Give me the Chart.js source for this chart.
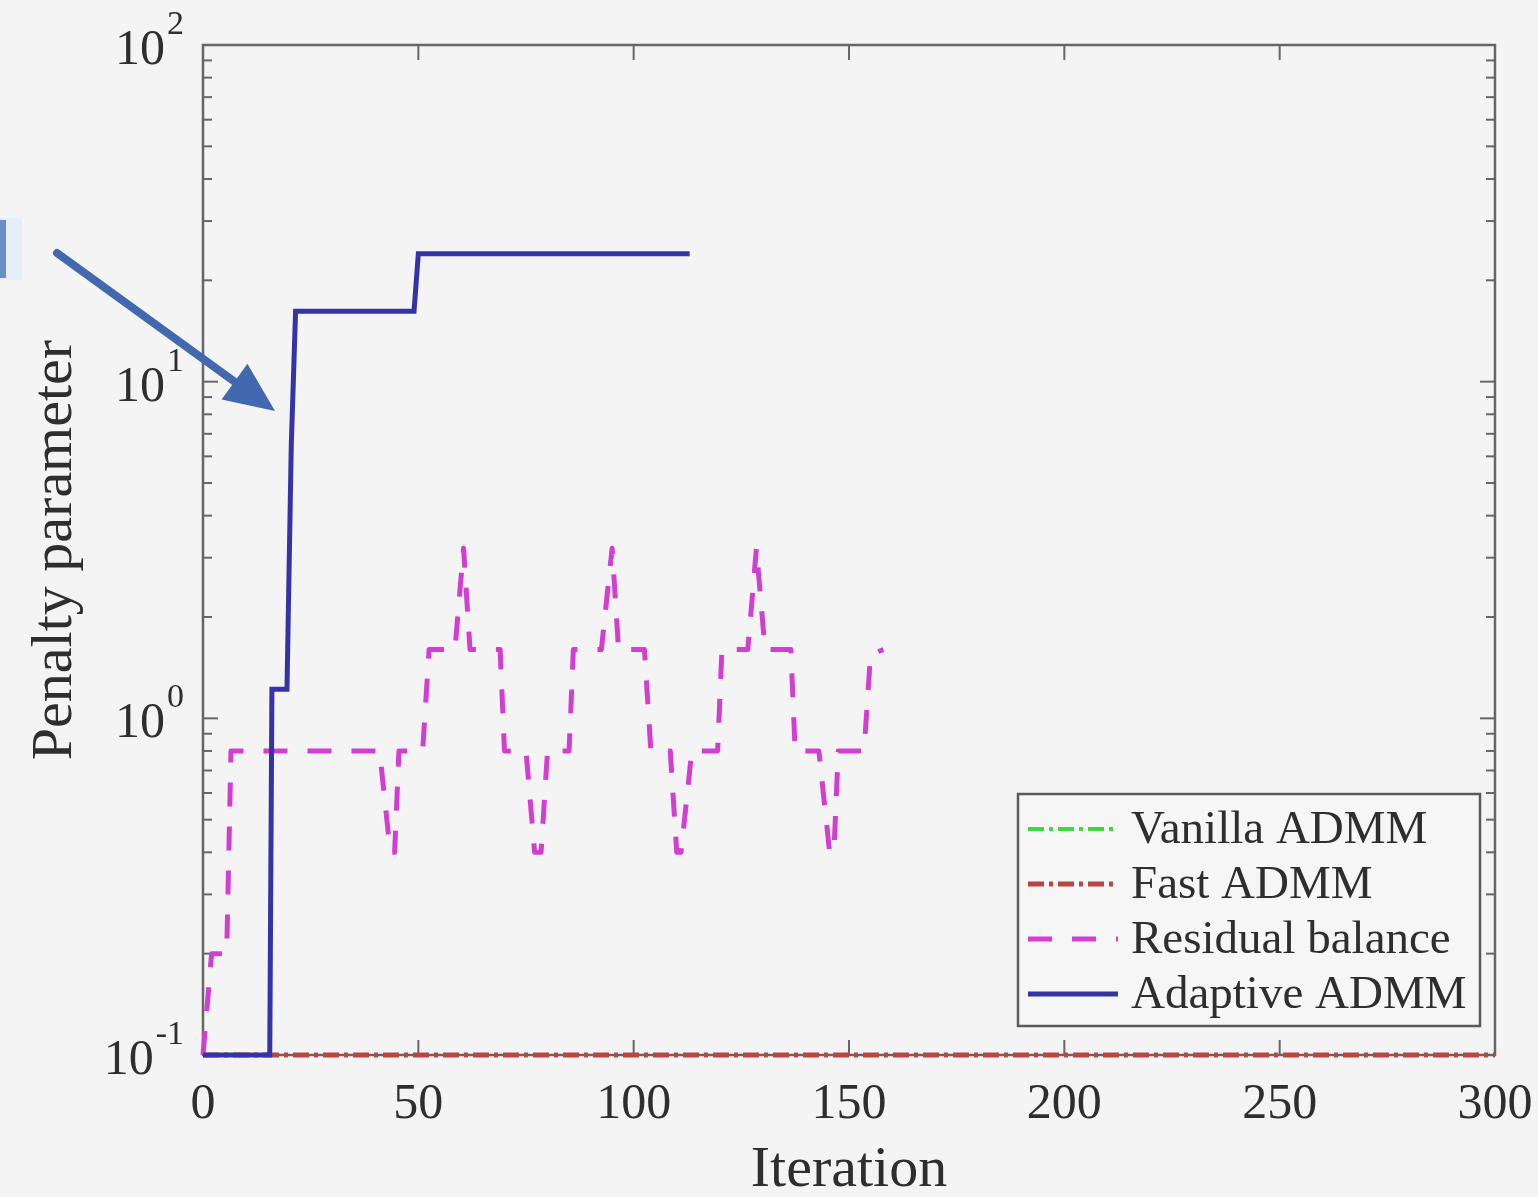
<!DOCTYPE html>
<html>
<head>
<meta charset="utf-8">
<title>Penalty parameter</title>
<script src="https://cdn.jsdelivr.net/npm/chart.js@4"></script>
<style>
  html, body { margin: 0; padding: 0; background: #f4f4f4; }
  #wrap { width: 1538px; height: 1197px; position: relative; }
</style>
</head>
<body>
<div id="wrap"><canvas id="penalty"></canvas></div>
<script>
// iteration / rho pairs for every method
const vanillaIter = [0, 300];
const vanillaRho  = [0.1, 0.1];

const fastIter = [0, 300];
const fastRho  = [0.1, 0.1];

const rbIter = [0, 2, 5.5, 6.5, 41, 43.5, 44.5, 45.5, 51, 52.5, 58.5, 60.5, 62, 69, 70,
  75, 77, 78.5, 80, 85, 86, 92.5, 95, 96.5, 102.5, 104, 108.5, 110, 111, 113.5, 119.5, 120.5,
  126.5, 128.5, 130.5, 136.5, 137.5, 143, 145.5, 146.5, 147.5, 153.5, 155, 158];
const rbRho  = [0.1, 0.2, 0.2, 0.8, 0.8, 0.4, 0.4, 0.8, 0.8, 1.6, 1.6, 3.2, 1.6, 1.6, 0.8,
  0.8, 0.4, 0.4, 0.8, 0.8, 1.6, 1.6, 3.2, 1.6, 1.6, 0.8, 0.8, 0.4, 0.4, 0.8, 0.8, 1.6,
  1.6, 3.2, 1.6, 1.6, 0.8, 0.8, 0.4, 0.4, 0.8, 0.8, 1.55, 1.6];

const adIter = [0, 15.5, 16, 19.5, 20.5, 21.5, 49, 50, 113];
const adRho  = [0.1, 0.1, 1.22, 1.22, 6.5, 16.2, 16.2, 24, 24];

const xTicks = [0, 50, 100, 150, 200, 250, 300];
const yDecades = [-1, 0, 1, 2];

const seriesNames = ['Vanilla ADMM', 'Fast ADMM', 'Residual balance', 'Adaptive ADMM'];

const SERIF = '"Liberation Serif", "Times New Roman", serif';
const TEXT = '#2e2e2e';

const toPoints = (xs, ys) => xs.map((v, i) => ({ x: v, y: ys[i] }));

// box, inward ticks, superscript y labels
const axesPlugin = {
  id: 'axesBox',
  beforeDatasetsDraw(chart) {
    const { ctx, chartArea: a, scales: { x, y } } = chart;
    ctx.save();
    ctx.strokeStyle = '#666666';
    ctx.lineWidth = 2.5;
    ctx.strokeRect(a.left, a.top, a.right - a.left, a.bottom - a.top);

    const seg = (x1, y1, x2, y2) => {
      ctx.beginPath(); ctx.moveTo(x1, y1); ctx.lineTo(x2, y2); ctx.stroke();
    };
    ctx.lineWidth = 2;
    xTicks.forEach(v => {
      const px = x.getPixelForValue(v);
      seg(px, a.bottom, px, a.bottom - 15);
      seg(px, a.top, px, a.top + 15);
    });
    yDecades.forEach(e => {
      const base = Math.pow(10, e);
      const py = y.getPixelForValue(base);
      seg(a.left, py, a.left + 15, py);
      seg(a.right, py, a.right - 15, py);
      if (e === 2) return;
      for (let k = 2; k <= 9; k++) {
        const my = y.getPixelForValue(k * base);
        seg(a.left, my, a.left + 9, my);
        seg(a.right, my, a.right - 9, my);
      }
    });
    ctx.restore();
  },
  afterDraw(chart) {
    const { ctx, scales: { y } } = chart;
    ctx.save();
    ctx.fillStyle = TEXT;
    ctx.textBaseline = 'middle';
    ctx.textAlign = 'left';
    yDecades.forEach(e => {
      const py = y.getPixelForValue(Math.pow(10, e));
      const sup = String(e);
      ctx.font = '34px ' + SERIF;
      const supW = ctx.measureText(sup).width;
      ctx.font = '50px ' + SERIF;
      const baseW = ctx.measureText('10').width;
      const right = 184;
      ctx.fillText('10', right - supW - baseW - 2, py + 6);
      ctx.font = '34px ' + SERIF;
      ctx.fillText(sup, right - supW, py - 20);
    });
    ctx.restore();
  }
};

// legend box in the lower right corner of the plot
const legendPlugin = {
  id: 'boxLegend',
  afterDraw(chart) {
    const { ctx, chartArea: a } = chart;
    const left = a.right - 477, top = a.bottom - 261, w = 462, h = 232;
    ctx.save();
    ctx.fillStyle = '#f6f6f6';
    ctx.fillRect(left, top, w, h);
    ctx.strokeStyle = '#5a5a5a';
    ctx.lineWidth = 2.5;
    ctx.strokeRect(left, top, w, h);
    ctx.font = '47px ' + SERIF;
    ctx.textBaseline = 'middle';
    ctx.textAlign = 'left';
    seriesNames.forEach((name, i) => {
      const ds = chart.data.datasets.find(d => d.label === name);
      const ry = top + 35 + i * 55;
      ctx.strokeStyle = ds.borderColor;
      ctx.lineWidth = ds.borderWidth;
      ctx.setLineDash(ds.borderDash || []);
      ctx.beginPath();
      ctx.moveTo(left + 10, ry);
      ctx.lineTo(left + 100, ry);
      ctx.stroke();
      ctx.setLineDash([]);
      ctx.fillStyle = TEXT;
      ctx.fillText(name, left + 113, ry + 2);
    });
    ctx.restore();
  }
};

// annotation arrow pointing at the adaptive curve
const arrowPlugin = {
  id: 'arrow',
  afterDraw(chart) {
    const { ctx } = chart;
    const x0 = 57, y0 = 253, x1 = 275, y1 = 411;
    const ang = Math.atan2(y1 - y0, x1 - x0);
    const headLen = 50, headW = 22;
    const bx = x1 - headLen * Math.cos(ang), by = y1 - headLen * Math.sin(ang);
    ctx.save();
    ctx.strokeStyle = '#4268b0';
    ctx.fillStyle = '#4268b0';
    ctx.lineWidth = 8;
    ctx.lineCap = 'round';
    ctx.beginPath();
    ctx.moveTo(x0, y0);
    ctx.lineTo(bx + 4 * Math.cos(ang), by + 4 * Math.sin(ang));
    ctx.stroke();
    ctx.beginPath();
    ctx.moveTo(x1, y1);
    ctx.lineTo(bx + headW * Math.sin(ang), by - headW * Math.cos(ang));
    ctx.lineTo(bx - headW * Math.sin(ang), by + headW * Math.cos(ang));
    ctx.closePath();
    ctx.fill();
    // edge of a cut-off callout box
    ctx.fillStyle = '#e6eefa';
    ctx.fillRect(0, 218, 22, 62);
    ctx.fillStyle = '#6d8ccc';
    ctx.fillRect(0, 220, 6, 58);
    ctx.restore();
  }
};

const ctx = document.getElementById('penalty').getContext('2d');

const chart = new Chart(ctx, {
  type: 'line',
  data: {
    datasets: [
      {
        label: 'Vanilla ADMM',
        data: toPoints(vanillaIter, vanillaRho),
        borderColor: '#3fd83f',
        borderWidth: 4,
        borderDash: [16, 5, 4, 5],
        clip: 6,
        order: 3
      },
      {
        label: 'Fast ADMM',
        data: toPoints(fastIter, fastRho),
        borderColor: '#bb4640',
        borderWidth: 5,
        borderDash: [16, 5, 4, 5],
        clip: 6,
        order: 2
      },
      {
        label: 'Residual balance',
        data: toPoints(rbIter, rbRho),
        borderColor: '#d23ed2',
        borderWidth: 5,
        borderDash: [24, 20],
        borderJoinStyle: 'round',
        clip: 6,
        order: 1
      },
      {
        label: 'Adaptive ADMM',
        data: toPoints(adIter, adRho),
        borderColor: '#3434a6',
        borderWidth: 5,
        clip: 6,
        order: 0
      }
    ]
  },
  options: {
    responsive: true,
    maintainAspectRatio: false,
    animation: false,
    events: [],
    elements: {
      point: { radius: 0 },
      line: { tension: 0, fill: false }
    },
    layout: { padding: { left: 0, top: 45, right: 43, bottom: 0 } },
    plugins: {
      legend: { display: false },
      tooltip: { enabled: false }
    },
    scales: {
      x: {
        type: 'linear',
        min: 0,
        max: 300,
        afterFit: s => { s.height = 142; s.paddingLeft = 0; s.paddingRight = 0; },
        afterBuildTicks: s => { s.ticks = xTicks.map(v => ({ value: v })); },
        grid: { display: false, drawTicks: false },
        border: { display: false },
        ticks: {
          padding: 20,
          color: TEXT,
          font: { family: SERIF, size: 50 },
          maxRotation: 0
        },
        title: {
          display: true,
          text: 'Iteration',
          color: TEXT,
          font: { family: SERIF, size: 58, lineHeight: 0.9 },
          padding: { top: 0, bottom: 0 }
        }
      },
      y: {
        type: 'logarithmic',
        min: 0.1,
        max: 100,
        afterFit: s => { s.width = 203; },
        grid: { display: false, drawTicks: false },
        border: { display: false },
        ticks: { display: false },
        title: {
          display: true,
          text: 'Penalty parameter',
          color: TEXT,
          font: { family: SERIF, size: 58, lineHeight: 0.9 },
          padding: { top: 30, bottom: 0 }
        }
      }
    }
  },
  plugins: [axesPlugin, legendPlugin, arrowPlugin]
});
</script>
</body>
</html>
